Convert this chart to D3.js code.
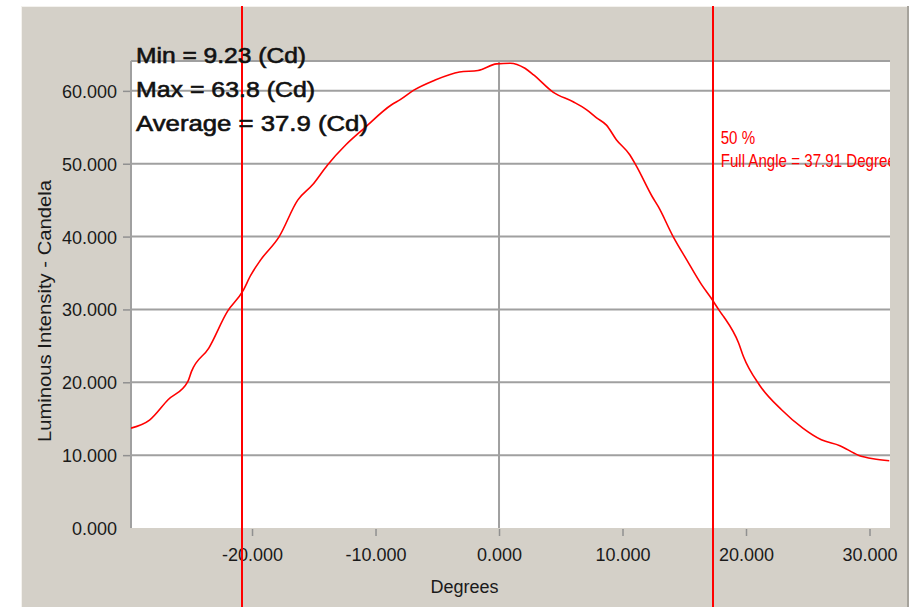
<!DOCTYPE html>
<html>
<head>
<meta charset="utf-8">
<script src="https://cdn.jsdelivr.net/npm/d3@7"></script>
<style>
  html, body { margin: 0; padding: 0; background: #ffffff; }
  svg { display: block; }
  text { font-family: "Liberation Sans", Arial, sans-serif; }
</style>
</head>
<body>
<svg id="chart" width="914" height="607"></svg>
<script>
// ---- data ----
const degrees = [-29.8, -28.3, -26.8, -25.2, -24.9, -23.5, -22.0, -20.75, -20.1, -19.3, -17.8, -16.3, -15.1, -13.9, -12.4, -10.9, -8.7, -8.0, -6.9, -5.3, -3.2, -1.7, -0.2, 0.9, 2.1, 2.8, 4.4, 6.0, 7.1, 7.9, 8.7, 9.5, 10.6, 11.15, 12.4, 12.9, 14.1, 15.2, 16.4, 17.2, 17.9, 18.2, 19.4, 19.8, 21.1, 22.9, 24.6, 26.1, 27.6, 29.1, 30.3, 31.6];
const candela = [13.7, 14.8, 17.6, 20.1, 21.5, 24.7, 29.7, 32.5, 34.7, 36.8, 40.0, 45.0, 47.1, 49.8, 52.6, 54.9, 58.1, 58.8, 60.1, 61.4, 62.6, 62.8, 63.7, 63.8, 63.1, 62.2, 59.8, 58.5, 57.4, 56.3, 55.3, 53.3, 51.2, 49.6, 45.5, 44.1, 40.0, 36.8, 33.4, 31.5, 29.7, 29.0, 25.4, 23.5, 19.6, 16.2, 13.7, 12.1, 11.3, 10.0, 9.5, 9.23];
const xTicks = [-20, -10, 0, 10, 20, 30];
const yTicks = [0, 10, 20, 30, 40, 50, 60];
const halfAngleMarks = [-20.8, 17.3];
const statLines = ["Min = 9.23 (Cd)", "Max = 63.8 (Cd)", "Average = 37.9 (Cd)"];
const markLabels = ["50 %", "Full Angle = 37.91 Degrees"];
const xDomain = [-29.8, 31.66];
const yDomain = [0, 64.1];

// ---- layout ----
const W = 914, H = 607;
const panel = {x: 21, y: 6, w: 888, h: 601};
const plot = {l: 131, r: 890, t: 61, b: 528};
const fmt = d => d.toFixed(3);

const svg = d3.select("#chart");
const x = d3.scaleLinear().domain(xDomain).range([plot.l, plot.r]);
const y = d3.scaleLinear().domain(yDomain).range([plot.b, plot.t]);

// panel background
svg.append("rect").attr("x", panel.x).attr("y", panel.y).attr("width", panel.w).attr("height", panel.h)
  .attr("fill", "#d4d0c8");
svg.append("line").attr("x1", panel.x + 0.5).attr("x2", panel.x + 0.5).attr("y1", panel.y).attr("y2", H)
  .attr("stroke", "#f4f2ee").attr("stroke-width", 1);
svg.append("line").attr("x1", panel.x).attr("x2", panel.x + panel.w).attr("y1", panel.y + 0.5).attr("y2", panel.y + 0.5)
  .attr("stroke", "#f4f2ee").attr("stroke-width", 1);
svg.append("line").attr("x1", panel.x + panel.w - 1).attr("x2", panel.x + panel.w - 1).attr("y1", panel.y).attr("y2", H)
  .attr("stroke", "#a6a39c").attr("stroke-width", 2);

// plot background
svg.append("rect").attr("x", plot.l).attr("y", plot.t).attr("width", plot.r - plot.l).attr("height", plot.b - plot.t)
  .attr("fill", "#ffffff");

// horizontal gridlines
svg.append("g").selectAll("line").data(yTicks.filter(d => d > 0)).join("line")
  .attr("x1", plot.l).attr("x2", plot.r)
  .attr("y1", d => y(d)).attr("y2", d => y(d))
  .attr("stroke", "#a0a0a0").attr("stroke-width", 2);

// zero vertical line
svg.append("line").attr("x1", x(0)).attr("x2", x(0)).attr("y1", plot.t).attr("y2", plot.b)
  .attr("stroke", "#a0a0a0").attr("stroke-width", 2);

// plot frame (top & left)
svg.append("line").attr("x1", plot.l).attr("x2", plot.r).attr("y1", plot.t).attr("y2", plot.t)
  .attr("stroke", "#a0a0a0").attr("stroke-width", 2);
svg.append("line").attr("x1", plot.l).attr("x2", plot.l).attr("y1", plot.t).attr("y2", plot.b)
  .attr("stroke", "#a0a0a0").attr("stroke-width", 2);

// y axis
const yAxis = d3.axisLeft(y).tickValues(yTicks).tickFormat(fmt).tickSize(7).tickPadding(6);
const gy = svg.append("g").attr("transform", `translate(${plot.l - 1},0)`).call(yAxis);
gy.select(".domain").remove();
gy.selectAll(".tick line").attr("stroke", "#909090").attr("stroke-width", 1.5);
gy.selectAll(".tick").filter(d => d === 0).select("line").remove();
gy.selectAll(".tick text").attr("font-size", 18).attr("fill", "#1a1a1a")
  .attr("font-family", "'Liberation Sans', Arial, sans-serif").attr("dy", "0.36em");

// x axis
const xAxis = d3.axisBottom(x).tickValues(xTicks).tickFormat(fmt).tickSize(7).tickPadding(12);
const gx = svg.append("g").attr("transform", `translate(0,${plot.b + 1})`).call(xAxis);
gx.select(".domain").remove();
gx.selectAll(".tick line").attr("stroke", "#909090").attr("stroke-width", 1.5);
gx.selectAll(".tick text").attr("font-size", 18).attr("fill", "#1a1a1a")
  .attr("font-family", "'Liberation Sans', Arial, sans-serif");

// axis titles
svg.append("text").attr("x", x(-2.8)).attr("y", 593).attr("text-anchor", "middle")
  .attr("font-size", 18).attr("fill", "#1a1a1a").text("Degrees");
svg.append("text").attr("transform", `translate(51,311) rotate(-90)`).attr("text-anchor", "middle")
  .attr("font-size", 18).attr("fill", "#1a1a1a")
  .attr("textLength", 262).attr("lengthAdjust", "spacingAndGlyphs")
  .text("Luminous Intensity - Candela");

// clip for plot
svg.append("clipPath").attr("id", "plotclip").append("rect")
  .attr("x", plot.l).attr("y", plot.t - 40).attr("width", plot.r - plot.l).attr("height", plot.b - plot.t + 40);

// curve
const line = d3.line().x((d, i) => x(degrees[i])).y(d => y(d)).curve(d3.curveMonotoneX);
svg.append("path").datum(candela).attr("d", line)
  .attr("fill", "none").attr("stroke", "#ff0000").attr("stroke-width", 1.6)
  .attr("clip-path", "url(#plotclip)");

// 50% marker lines spanning the panel
svg.append("g").selectAll("line").data(halfAngleMarks).join("line")
  .attr("x1", d => Math.round(x(d))).attr("x2", d => Math.round(x(d)))
  .attr("y1", panel.y).attr("y2", H)
  .attr("stroke", "#ff0000").attr("stroke-width", 2);

// red label
const rl = svg.append("g").attr("clip-path", "url(#plotclip)");
const rx = x(halfAngleMarks[1]) + 8;
[144, 167].forEach((yy, i) => {
  rl.append("text").attr("transform", `translate(${rx},${yy}) scale(0.84,1)`)
    .attr("font-size", 18).attr("fill", "#ff0000").text(markLabels[i]);
});

// stats text
const statW = [170, 179, 232];
statLines.forEach((s, i) => {
  svg.append("text").attr("x", 136).attr("y", 63 + i * 34)
    .attr("font-size", 22).attr("fill", "#111")
    .attr("stroke", "#111").attr("stroke-width", 0.6)
    .attr("textLength", statW[i]).attr("lengthAdjust", "spacingAndGlyphs")
    .text(s);
});
</script>
</body>
</html>
